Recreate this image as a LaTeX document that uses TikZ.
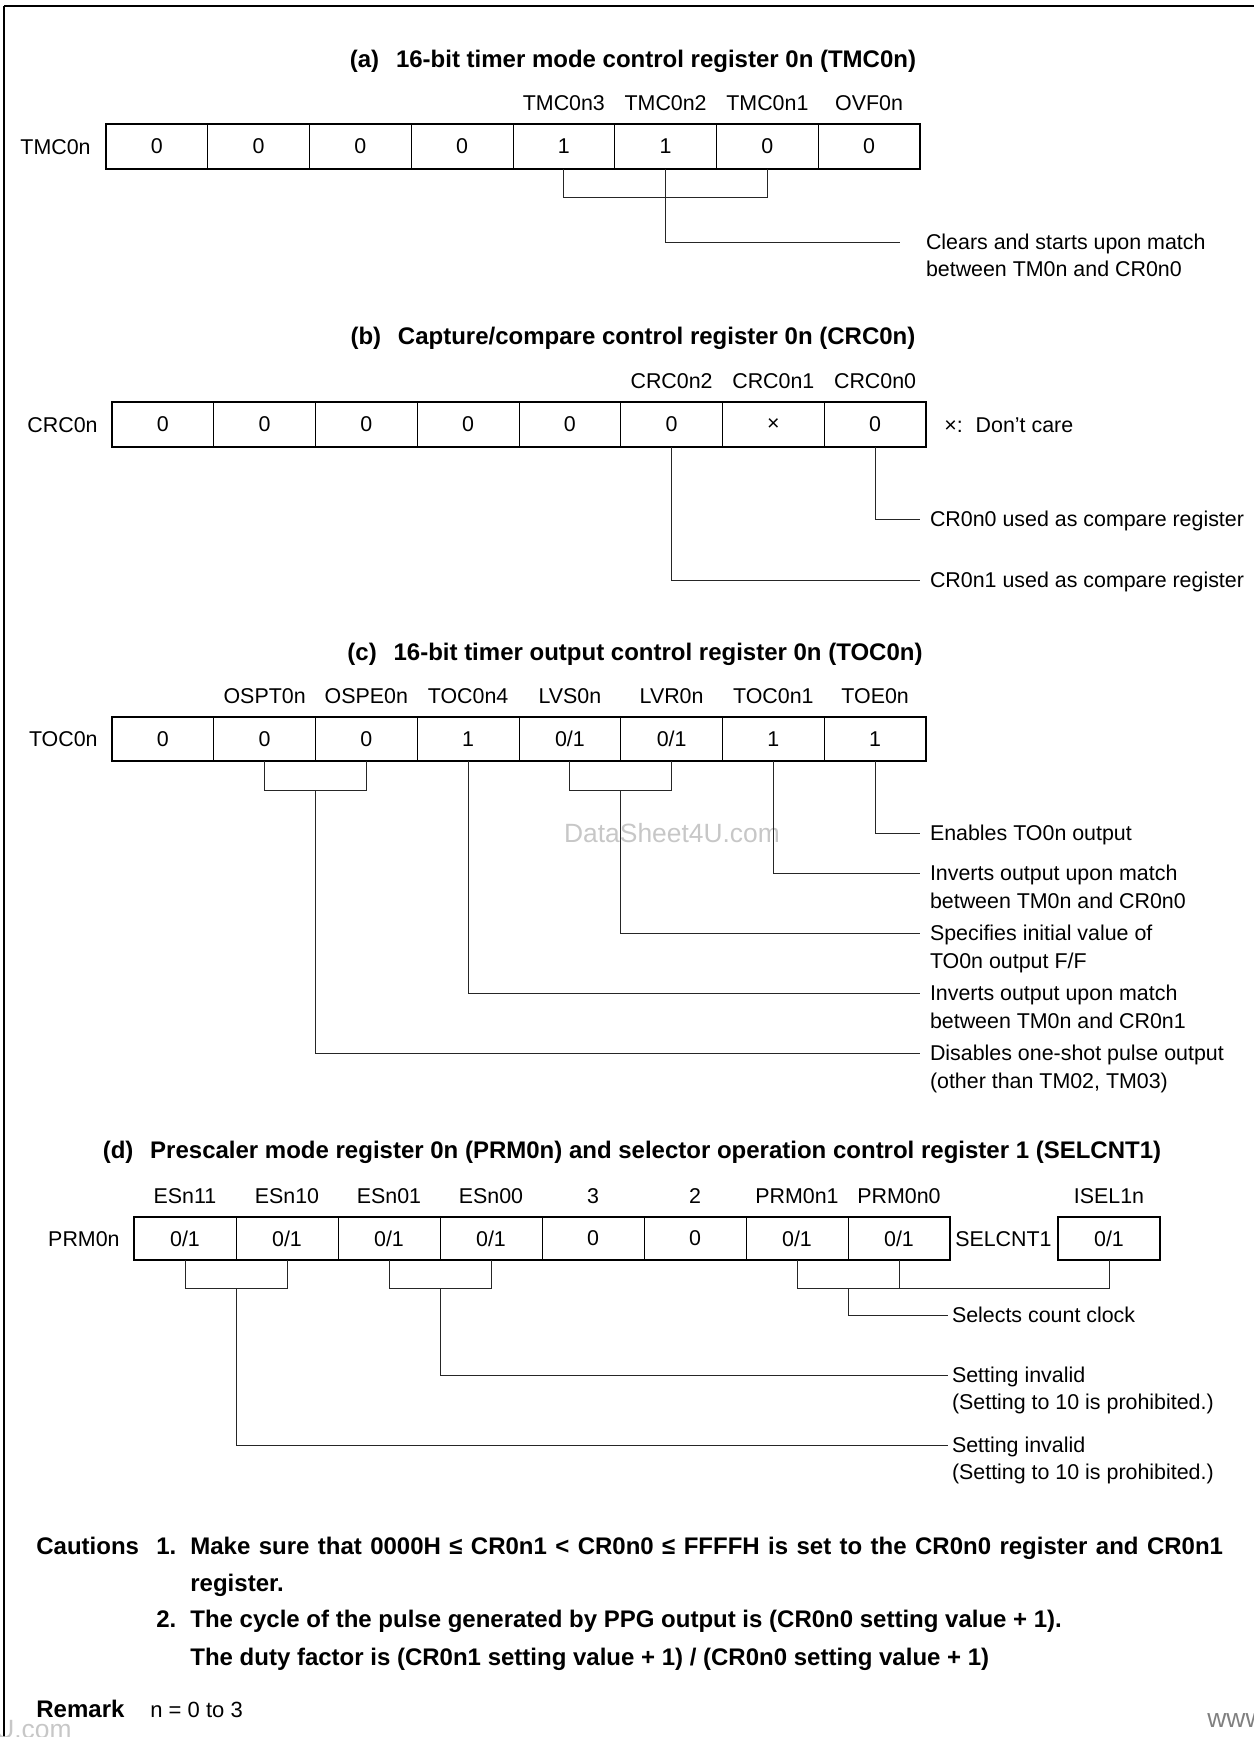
\documentclass[tikz,border=0pt]{standalone}
\usepackage{fontspec}
\setmainfont{Liberation Sans}
\usepackage{tikz}
\usetikzlibrary{positioning, calc}
\newcommand{\diagtext}{\fontsize{10.7pt}{13pt}\selectfont}
\newcommand{\diagbold}{\fontsize{12pt}{14pt}\selectfont\bfseries}

\begin{document}
\begin{tikzpicture}[x=0.5pt, y=0.5pt,
  cell/.style={draw, line width=0.5pt, minimum width=#1, minimum height=22.5pt,
    inner sep=0pt, outer sep=0pt, anchor=north west, font=\diagtext},
  cell/.default=50.875pt,
  regbox/.style={draw, line width=1.1pt},
  bitlbl/.style={font=\diagtext, inner sep=0pt, text height=7.6pt, text depth=0pt},
  desc/.style={font=\diagtext, inner sep=0pt, outer xsep=#1, outer ysep=0pt,
    text height=7.6pt, text depth=0pt, anchor=west},
  desc/.default=5pt,
  lead/.style={line width=0.5pt, draw=black!85},
  ttl/.style={font=\diagbold, inner sep=0pt},
  note/.style={font=\diagbold, inner sep=0pt, anchor=base west},
  wmark/.style={font=\fontsize{13.2pt}{15pt}\selectfont, text=black!22, inner sep=0pt}]

\useasboundingbox (0,0) rectangle (1254,-1737);

% frame and watermarks
\draw[line width=1pt] (4,-6) -- (1260,-6);
\draw[line width=0.7pt] (4,-6) -- (4,-1745);
\node[wmark] (wm) at (672,-833) {DataSheet4U.com};
\node[wmark, anchor=east] (wml) at (72,-1729) {DataSheet4U.com};
\node[wmark, anchor=west, text=black!50] (wmr) at (1207,-1718) {www.DataSheet4U.com};

% (a) TMC0n
\node[ttl] (tA) at (633,-61) {(a)\hspace{0.7em}16-bit timer mode control register 0n (TMC0n)};
\foreach \v [count=\i] in {0,0,0,0,1,1,0,0}
  \node[cell] (a\i) at ({106+(\i-1)*101.75},-124) {\v};
\draw[regbox] (a1.north west) rectangle (a8.south east);
\node[bitlbl, left=7.5pt of a1] (rA) {TMC0n};
\foreach \n [count=\i from 5] in {TMC0n3,TMC0n2,TMC0n1,OVF0n}
  \node[bitlbl, above=6.5pt of a\i] (nA\i) {\n};
\coordinate (jA) at ($(a6.south)+(0,-28)$);
\draw[lead] (a5.south) |- (jA) -| (a7.south);
\node[desc=13pt] (dA1) at (900,-242) {Clears and starts upon match};
\node[desc=13pt, below=6pt of dA1.south west, anchor=north west] (dA2) {between TM0n and CR0n0};
\draw[lead] (a6.south) |- (dA1.west);

% (b) CRC0n
\node[ttl] (tB) at (633,-338) {(b)\hspace{0.7em}Capture/compare control register 0n (CRC0n)};
\foreach \v [count=\i] in {0,0,0,0,0,0,×,0}
  \node[cell] (b\i) at ({112+(\i-1)*101.75},-402) {\v};
\draw[regbox] (b1.north west) rectangle (b8.south east);
\node[bitlbl, left=7pt of b1] (rB) {CRC0n};
\foreach \n [count=\i from 6] in {CRC0n2,CRC0n1,CRC0n0}
  \node[bitlbl, above=6.5pt of b\i] (nB\i) {\n};
\node[bitlbl, right=9pt of b8] (care) {×:\hspace{0.6em}Don't care};
\node[desc] (dB1) at (920,-519) {CR0n0 used as compare register};
\node[desc] (dB2) at (920,-580) {CR0n1 used as compare register};
\draw[lead] (b8.south) |- (dB1.west);
\draw[lead] (b6.south) |- (dB2.west);

% (c) TOC0n
\node[ttl] (tC) at (635,-654) {(c)\hspace{0.7em}16-bit timer output control register 0n (TOC0n)};
\foreach \v [count=\i] in {0,0,0,1,0/1,0/1,1,1}
  \node[cell, minimum height=22pt] (c\i) at ({112+(\i-1)*101.75},-717) {\v};
\draw[regbox] (c1.north west) rectangle (c8.south east);
\node[bitlbl, left=7pt of c1] (rC) {TOC0n};
\foreach \n [count=\i from 2] in {OSPT0n,OSPE0n,TOC0n4,LVS0n,LVR0n,TOC0n1,TOE0n}
  \node[bitlbl, above=6.5pt of c\i] (nC\i) {\n};
\coordinate (jC1) at ($(c2.south)!.5!(c3.south)+(0,-29)$);
\coordinate (jC2) at ($(c5.south)!.5!(c6.south)+(0,-29)$);
\draw[lead] (c2.south) |- (jC1) -| (c3.south);
\draw[lead] (c5.south) |- (jC2) -| (c6.south);
\node[desc] (dC1) at (920,-833) {Enables TO0n output};
\node[desc] (dC2) at (920,-873) {Inverts output upon match};
\node[desc, below=6.5pt of dC2.south west, anchor=north west] (dC2b) {between TM0n and CR0n0};
\node[desc] (dC3) at (920,-933) {Specifies initial value of};
\node[desc, below=6.5pt of dC3.south west, anchor=north west] (dC3b) {TO0n output F/F};
\node[desc] (dC4) at (920,-993) {Inverts output upon match};
\node[desc, below=6.5pt of dC4.south west, anchor=north west] (dC4b) {between TM0n and CR0n1};
\node[desc] (dC5) at (920,-1053) {Disables one-shot pulse output};
\node[desc, below=6.5pt of dC5.south west, anchor=north west] (dC5b) {(other than TM02, TM03)};
\draw[lead] (c8.south) |- (dC1.west);
\draw[lead] (c7.south) |- (dC2.west);
\draw[lead] (jC2) |- (dC3.west);
\draw[lead] (c4.south) |- (dC4.west);
\draw[lead] (jC1) |- (dC5.west);

% (d) PRM0n and SELCNT1
\node[ttl] (tD) at (632,-1152) {(d)\hspace{0.7em}Prescaler mode register 0n (PRM0n) and selector operation control register 1 (SELCNT1)};
\foreach \v [count=\i] in {0/1,0/1,0/1,0/1,0,0,0/1,0/1}
  \node[cell=51pt, minimum height=21.5pt] (d\i) at ({134+(\i-1)*102},-1217) {\v};
\draw[regbox] (d1.north west) rectangle (d8.south east);
\node[bitlbl, left=7pt of d1] (rD) {PRM0n};
\foreach \n [count=\i] in {ESn11,ESn10,ESn01,ESn00,3,2,PRM0n1,PRM0n0}
  \node[bitlbl, above=6.5pt of d\i] (nD\i) {\n};
\node[cell=51pt, minimum height=21.5pt] (s1) at (1058,-1217) {0/1};
\draw[regbox] (s1.north west) rectangle (s1.south east);
\node[bitlbl, above=6.5pt of s1] (nS1) {ISEL1n};
\node[bitlbl, left=3pt of s1] (rS) {SELCNT1};
\coordinate (jD1) at ($(d1.south)!.5!(d2.south)+(0,-28)$);
\coordinate (jD2) at ($(d3.south)!.5!(d4.south)+(0,-28)$);
\coordinate (jD3) at ($(d7.south)!.5!(d8.south)+(0,-28)$);
\draw[lead] (d1.south) |- (jD1) -| (d2.south);
\draw[lead] (d3.south) |- (jD2) -| (d4.south);
\draw[lead] (d7.south) |- (jD3) -| (s1.south);
\draw[lead] (d8.south) -- (d8.south |- jD3);
\node[desc=2pt] (dD1) at (948,-1315) {Selects count clock};
\node[desc=2pt] (dD2) at (948,-1375) {Setting invalid};
\node[desc=2pt, below=6pt of dD2.south west, anchor=north west] (dD2b) {(Setting to 10 is prohibited.)};
\node[desc=2pt] (dD3) at (948,-1445) {Setting invalid};
\node[desc=2pt, below=6pt of dD3.south west, anchor=north west] (dD3b) {(Setting to 10 is prohibited.)};
\draw[lead] (jD3) |- (dD1.west);
\draw[lead] (jD2) |- (dD2.west);
\draw[lead] (jD1) |- (dD3.west);

% cautions and remark
\node[note] (cau) at (36,-1554) {Cautions};
\node[note] (cau1) at (156,-1554) {1.};
\node[note] (cau1a) at (190,-1554) {\spaceskip=4.2pt Make sure that 0000H ≤ CR0n1 < CR0n0 ≤ FFFFH is set to the CR0n0 register and CR0n1};
\node[note] (cau1b) at (190,-1591) {register.};
\node[note] (cau2) at (156,-1627) {2.};
\node[note] (cau2a) at (190,-1627) {The cycle of the pulse generated by PPG output is (CR0n0 setting value + 1).};
\node[note] (cau2b) at (190,-1665) {The duty factor is (CR0n1 setting value + 1) / (CR0n0 setting value + 1)};
\node[note] (rem) at (36,-1717) {Remark};
\node[note, font=\fontsize{11pt}{13pt}\selectfont] (remt) at (150,-1717) {n = 0 to 3};

\end{tikzpicture}
\end{document}
